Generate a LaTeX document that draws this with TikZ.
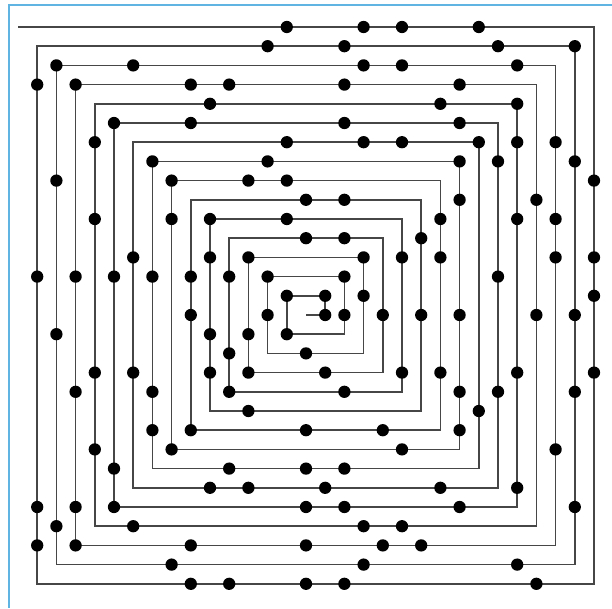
\documentclass[tikz,border=0pt]{standalone}
\usepackage{tikz}
\definecolor{ulamLine}  {RGB}{70, 70, 70}
\definecolor{ulamFrame} {RGB}{95, 180, 225}

\tikzset{
  spiralline/.style={draw=ulamLine,line width=1.1pt},
  primedot/.style={fill=black},
  framerule/.style={draw=ulamFrame,line width=1.5pt}
}

% contadores do passeio na espiral
\newcount\ulamx \newcount\ulamy \newcount\ulamn \newcount\ulamq
\newif\ifulamprime
\newcommand{\ulamtest}{%
  \global\ulamprimetrue
  \foreach \d in {2,3,5,7,11,13,17,19,23,29}{%
    \ifnum\ulamn>\d\relax
      \ulamq=\ulamn\relax
      \divide\ulamq by \d\relax
      \multiply\ulamq by \d\relax
      \ifnum\ulamq=\ulamn\relax \global\ulamprimefalse\fi
    \fi}}

\begin{document}
\begin{tikzpicture}[x=5mm,y=5mm]

    \useasboundingbox (-15.9375,-15.2604) rectangle (15.9375,16.4063);

    % Moldura
    \draw[framerule] (15.9375,16.15) -- (-15.47,16.15) -- (-15.47,-15.2604);

    % Espiral
    \draw[spiralline] (0,0)
      \foreach \k [evaluate=\k as \d using {\k*(2*mod(\k,2)-1)}] in {1,...,29}{
        -- ++(\d,0) -- ++(0,\d) }
      -- ++(-30,0);

    % Primos
    \global\ulamx=0 \global\ulamy=0 \global\ulamn=1
    \foreach \k in {1,...,30}{
      \foreach \leg in {1,2}{
        \foreach \s in {1,...,\k}{
          \ifnum\ulamn<901\relax
            \ifodd\k\relax
              \ifnum\leg=1\relax \global\advance\ulamx by 1\relax
              \else \global\advance\ulamy by 1\relax \fi
            \else
              \ifnum\leg=1\relax \global\advance\ulamx by -1\relax
              \else \global\advance\ulamy by -1\relax \fi
            \fi
            \global\advance\ulamn by 1\relax
            \ulamtest
            \ifulamprime \fill[primedot] (\the\ulamx,\the\ulamy) circle (0.32); \fi
          \fi
        }
      }
    }

  \end{tikzpicture}
\end{document}
